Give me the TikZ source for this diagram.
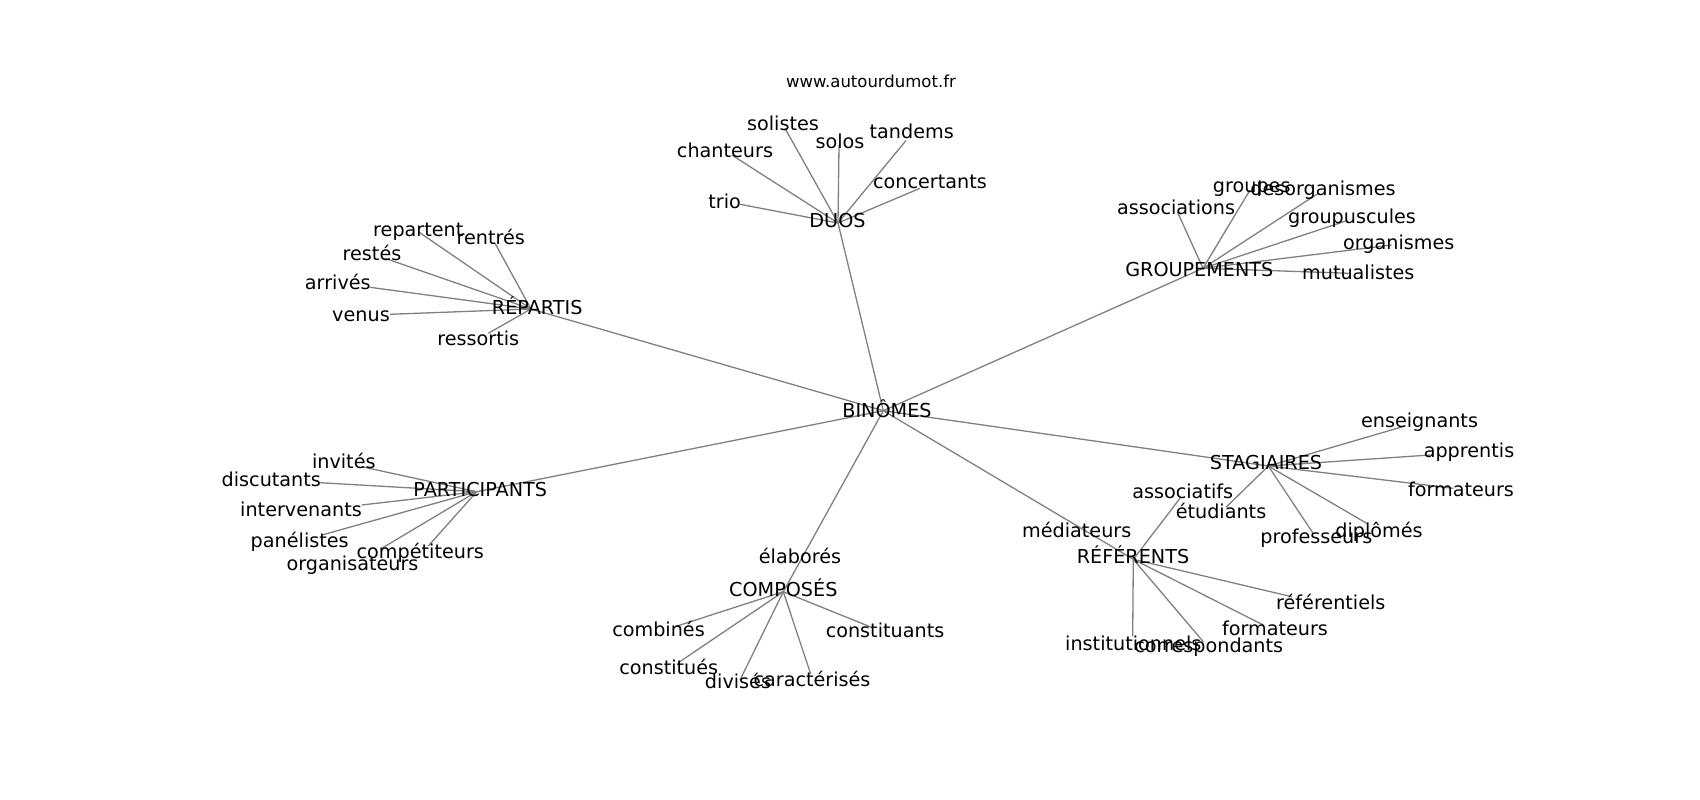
\documentclass[tikz,border=0pt]{standalone}
\usepackage{fontspec}
\setmainfont{DejaVu Sans}
\begin{document}
\begin{tikzpicture}[x=1pt,y=-1pt,
  lbl/.style={inner sep=0pt,anchor=base,font=\fontsize{19.2}{23}\selectfont},
  ttl/.style={inner sep=0pt,anchor=base,font=\fontsize{16.5}{20}\selectfont},
  edge/.style={draw=black!50,line width=1.3pt}]
\useasboundingbox (0,0) rectangle (1700,800);
% hub points
\coordinate (binomes) at (883.3,410.7);
\coordinate (duos) at (838,223);
\coordinate (groupements) at (1203,268.3);
\coordinate (repartis) at (531,309);
\coordinate (participants) at (476.7,491.7);
\coordinate (composes) at (783.3,591.7);
\coordinate (referents) at (1133.3,559.3);
\coordinate (stagiaires) at (1268.3,466);
% leaf points
\coordinate (trio) at (740,204.3);
\coordinate (chanteurs) at (731.7,155);
\coordinate (solistes) at (785,128.3);
\coordinate (solos) at (839,145);
\coordinate (tandems) at (906,140.5);
\coordinate (concertants) at (920,188.3);
\coordinate (associations) at (1177.3,211.7);
\coordinate (groupes) at (1250,190);
\coordinate (desorganismes) at (1318.3,193.3);
\coordinate (groupuscules) at (1346.7,220.7);
\coordinate (organismes) at (1391.7,245);
\coordinate (mutualistes) at (1350,273.3);
\coordinate (repartent) at (418.3,231.7);
\coordinate (rentres) at (495,243.3);
\coordinate (restes) at (385,258.3);
\coordinate (arrives) at (370,287.3);
\coordinate (venus) at (390,314.3);
\coordinate (ressortis) at (488.3,333.3);
\coordinate (invites) at (361.7,466.7);
\coordinate (discutants) at (320,482.7);
\coordinate (intervenants) at (361.7,505);
\coordinate (panelistes) at (323,534.7);
\coordinate (competiteurs) at (428.3,546);
\coordinate (organisateurs) at (381.7,548.3);
\coordinate (combines) at (675,626.7);
\coordinate (constitues) at (678.3,662.7);
\coordinate (divises) at (740,680);
\coordinate (caracterises) at (810.7,674);
\coordinate (constituants) at (870,626.7);
\coordinate (associatifs) at (1180,498.3);
\coordinate (referentiels) at (1291.7,596.7);
\coordinate (formateursR) at (1263.3,625);
\coordinate (correspondants) at (1203.3,641.7);
\coordinate (institutionnels) at (1132.7,636.7);
\coordinate (etudiants) at (1226,507.3);
\coordinate (professeurs) at (1312.7,532.7);
\coordinate (diplomes) at (1366.7,523.3);
\coordinate (enseignants) at (1405,426);
\coordinate (apprentis) at (1430,455);
\coordinate (formateursS) at (1453.3,488.3);
% edges
\foreach \h in {duos,groupements,repartis,participants,composes,referents,stagiaires}
  \draw[edge] (binomes) -- (\h);
\foreach \l in {trio,chanteurs,solistes,solos,tandems,concertants}
  \draw[edge] (duos) -- (\l);
\foreach \l in {associations,groupes,desorganismes,groupuscules,organismes,mutualistes}
  \draw[edge] (groupements) -- (\l);
\foreach \l in {repartent,rentres,restes,arrives,venus,ressortis}
  \draw[edge] (repartis) -- (\l);
\foreach \l in {invites,discutants,intervenants,panelistes,competiteurs,organisateurs}
  \draw[edge] (participants) -- (\l);
\foreach \l in {combines,constitues,divises,caracterises,constituants}
  \draw[edge] (composes) -- (\l);
\foreach \l in {associatifs,referentiels,formateursR,correspondants,institutionnels}
  \draw[edge] (referents) -- (\l);
\foreach \l in {etudiants,professeurs,diplomes,enseignants,apprentis,formateursS}
  \draw[edge] (stagiaires) -- (\l);
% labels
\node[ttl] (title) at (871,88) {www.autourdumot.fr};
\node[lbl] (t-binomes) at (887,417.7) {BINÔMES};
\node[lbl] (t-duos) at (837.5,227.7) {DUOS};
\node[lbl] (t-groupements) at (1199.3,276.7) {GROUPEMENTS};
\node[lbl] (t-repartis) at (537.2,314) {RÉPARTIS};
\node[lbl] (t-participants) at (480.3,496) {PARTICIPANTS};
\node[lbl] (t-composes) at (783.3,596) {COMPOSÉS};
\node[lbl] (t-referents) at (1133,563.3) {RÉFÉRENTS};
\node[lbl] (t-stagiaires) at (1266,469.3) {STAGIAIRES};
\node[lbl] (t-trio) at (724.7,208.3) {trio};
\node[lbl] (t-chanteurs) at (725,157.3) {chanteurs};
\node[lbl] (t-solistes) at (783,130.7) {solistes};
\node[lbl] (t-solos) at (840,148.3) {solos};
\node[lbl] (t-tandems) at (911.7,138.5) {tandems};
\node[lbl] (t-concertants) at (930,188.8) {concertants};
\node[lbl] (t-associations) at (1176,214) {associations};
\node[lbl] (t-groupes) at (1251.7,192.7) {groupes};
\node[lbl] (t-desorganismes) at (1323,195) {desorganismes};
\node[lbl] (t-groupuscules) at (1352,223.3) {groupuscules};
\node[lbl] (t-organismes) at (1398.7,249.3) {organismes};
\node[lbl] (t-mutualistes) at (1358.3,279.3) {mutualistes};
\node[lbl] (t-repartent) at (418.3,236.7) {repartent};
\node[lbl] (t-rentres) at (490.8,244.3) {rentrés};
\node[lbl] (t-restes) at (372,260) {restés};
\node[lbl] (t-arrives) at (337.8,289) {arrivés};
\node[lbl] (t-venus) at (361,321.7) {venus};
\node[lbl] (t-ressortis) at (478.2,345) {ressortis};
\node[lbl] (t-invites) at (343.8,468.3) {invités};
\node[lbl] (t-discutants) at (271.3,486) {discutants};
\node[lbl] (t-intervenants) at (301,516.5) {intervenants};
\node[lbl] (t-panelistes) at (299.7,547.3) {panélistes};
\node[lbl] (t-competiteurs) at (420.3,558.3) {compétiteurs};
\node[lbl] (t-organisateurs) at (352.5,570) {organisateurs};
\node[lbl] (t-elabores) at (800,563.3) {élaborés};
\node[lbl] (t-combines) at (658.5,636.7) {combinés};
\node[lbl] (t-constitues) at (668.7,674) {constitués};
\node[lbl] (t-divises) at (738,688.3) {divisés};
\node[lbl] (t-caracterises) at (812,686) {caractérisés};
\node[lbl] (t-constituants) at (885,637.3) {constituants};
\node[lbl] (t-mediateurs) at (1076.7,537.3) {médiateurs};
\node[lbl] (t-associatifs) at (1182.7,498.3) {associatifs};
\node[lbl] (t-referentiels) at (1330.8,609.3) {référentiels};
\node[lbl] (t-formateursR) at (1275,635) {formateurs};
\node[lbl] (t-correspondants) at (1208.7,652.7) {correspondants};
\node[lbl] (t-institutionnels) at (1133.3,650.7) {institutionnels};
\node[lbl] (t-etudiants) at (1221,518.3) {étudiants};
\node[lbl] (t-professeurs) at (1316.3,543.3) {professeurs};
\node[lbl] (t-diplomes) at (1379,537.3) {diplômés};
\node[lbl] (t-enseignants) at (1419.5,427.3) {enseignants};
\node[lbl] (t-apprentis) at (1469,457.3) {apprentis};
\node[lbl] (t-formateursS) at (1461,496) {formateurs};
\end{tikzpicture}
\end{document}
